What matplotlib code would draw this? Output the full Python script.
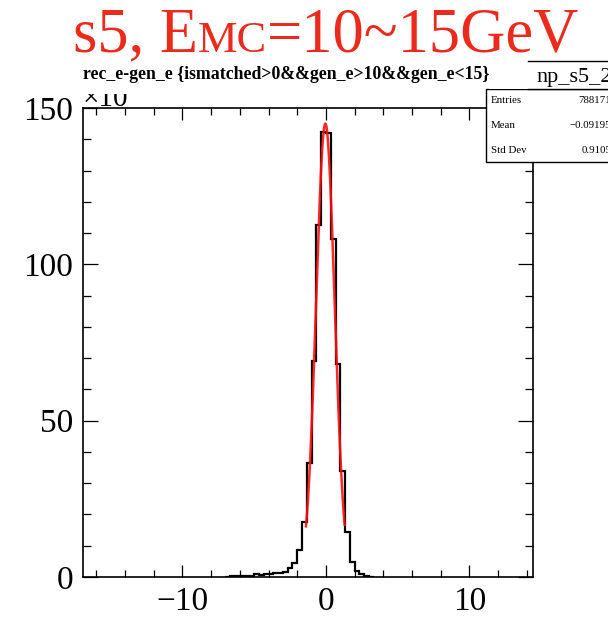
import matplotlib
matplotlib.use('Agg')
import numpy as np
import matplotlib.pyplot as plt
from matplotlib.ticker import MultipleLocator
from matplotlib.patches import Rectangle
from matplotlib.lines import Line2D

# histogram rec_e - gen_e, bin width 1/3, counts in units of 10^3
bin_width = 1.0 / 3.0
first_bin = -21
counts = [0.15, 0.2, 0.25, 0.25, 0.3, 0.3, 0.9, 0.6, 1.1, 1.1,
          1.2, 1.2, 1.7, 2.8, 4.5, 8.6, 17.7, 36.5, 69.0, 112.5,
          142.3, 142.0, 108.0, 68.0, 34.0, 14.5, 4.9, 2.0, 0.9, 0.3, 0.1]

# gaussian fit drawn in red
fit_const = 145.0
fit_mean = -0.04
fit_sigma = 0.645
fit_range = (-1.39, 1.30)

stat_names = ['Entries', 'Mean', 'Std Dev']
stat_values = ['788171', '\u22120.09195', '0.9105']

W, H = 608, 624
serif = 'Liberation Serif'
red = '#ec2a1c'

def fx(px):
    return px / W

def fy(py):
    return 1 - py / H

fig = plt.figure(figsize=(W / 100, H / 100), dpi=100)
ax = fig.add_axes([fx(83), fy(577), (533 - 83) / W, (577 - 108) / H])

edges = (first_bin + np.arange(len(counts) + 1)) * bin_width
ax.stairs(counts, edges, color='black', linewidth=1.6, baseline=None)

xf = np.linspace(fit_range[0], fit_range[1], 300)
yf = fit_const * np.exp(-0.5 * ((xf - fit_mean) / fit_sigma) ** 2)
ax.plot(xf, yf, color='#ff1010', linewidth=1.8, alpha=0.9)

ax.set_xlim(-16.93, 14.43)
ax.set_ylim(0, 150)
ax.xaxis.set_major_locator(MultipleLocator(10))
ax.xaxis.set_minor_locator(MultipleLocator(2))
ax.yaxis.set_major_locator(MultipleLocator(50))
ax.yaxis.set_minor_locator(MultipleLocator(10))
ax.tick_params(which='both', direction='in', top=True, right=True, width=0.9)
ax.tick_params(axis='x', which='major', length=8.6, pad=7)
ax.tick_params(axis='x', which='minor', length=5)
ax.tick_params(axis='y', which='major', length=10.8, pad=7)
ax.tick_params(axis='y', which='minor', length=5.8)
for lab in ax.get_xticklabels() + ax.get_yticklabels():
    lab.set_family(serif)
    lab.set_fontsize(24)
for sp in ax.spines.values():
    sp.set_linewidth(1.2)

# x10^3 multiplier, half hidden behind the title pave
fig.text(fx(83), fy(106), '\u00d710', family=serif, fontsize=21, va='baseline', zorder=1)
fig.patches.append(Rectangle((fx(0), fy(94)), fx(486), 37 / H, transform=fig.transFigure,
                             facecolor='white', edgecolor='none', zorder=2))

# subtitle
fig.text(fx(83), fy(79), 'rec_e-gen_e {ismatched>0&&gen_e>10&&gen_e<15}',
         family=serif, fontweight='bold', fontsize=12.8, va='baseline', zorder=3)

# big red title built from pieces
renderer = fig.canvas.get_renderer()
xpos = 73
for txt, size in [('s5, E', 45), ('MC', 32), ('=10~15GeV', 45)]:
    t = fig.text(fx(xpos), fy(52), txt, family=serif, fontsize=size, color=red,
                 va='baseline', zorder=3)
    xpos += t.get_window_extent(renderer).width

# stats box
fig.patches.append(Rectangle((fx(486), fy(162)), fx(130), 73 / H, transform=fig.transFigure,
                             facecolor='white', edgecolor='black', linewidth=1.0, zorder=4))
fig.patches.append(Rectangle((fx(489), fy(89)), fx(130), 28 / H, transform=fig.transFigure,
                             facecolor='white', edgecolor='none', zorder=5))
fig.lines.append(Line2D([fx(528), fx(610)], [fy(61), fy(61)], transform=fig.transFigure,
                        color='black', linewidth=1.0, zorder=6))
fig.lines.append(Line2D([fx(528), fx(610)], [fy(89), fy(89)], transform=fig.transFigure,
                        color='black', linewidth=1.0, zorder=6))
fig.text(fx(536), fy(82), 'np_s5_2', family=serif, fontsize=16, va='baseline', zorder=6)
for i, (name, val) in enumerate(zip(stat_names, stat_values)):
    yb = 103 + 25 * i
    fig.text(fx(491), fy(yb), name, family=serif, fontsize=7.8, va='baseline', zorder=5)
    fig.text(fx(611), fy(yb), val, family=serif, fontsize=7.8, va='baseline', ha='right', zorder=5)

fig.savefig('out.png', dpi=100)
